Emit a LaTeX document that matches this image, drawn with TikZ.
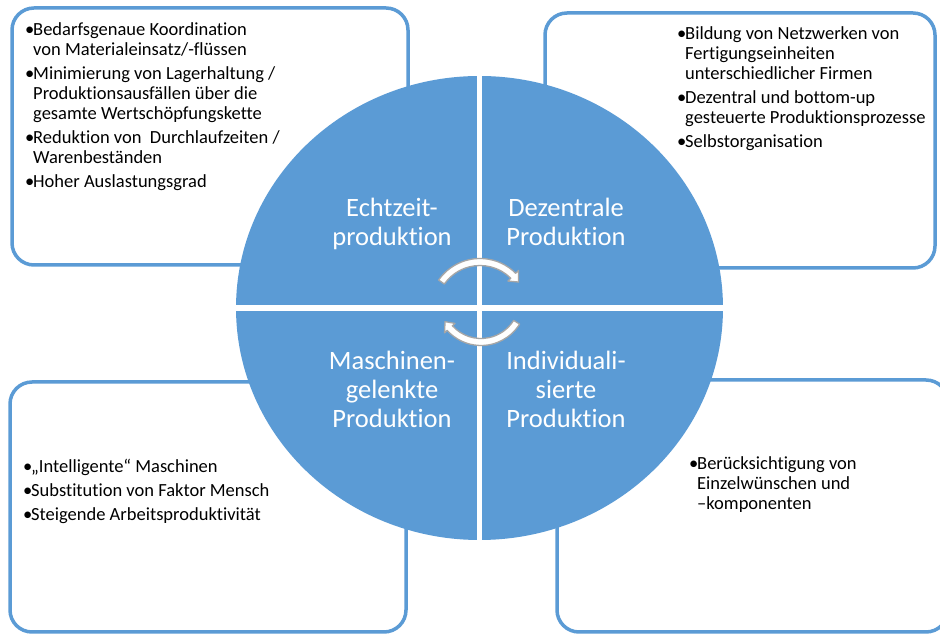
\documentclass[tikz,border=0pt]{standalone}
\usepackage{fontspec}
\setmainfont{Carlito}[Ligatures=NoCommon]
\definecolor{sablue}{HTML}{5B9BD5}
\definecolor{arrowgray}{HTML}{A6A6A6}
\newcommand{\bxbul}{\makebox[8pt][l]{•}}
\newcommand{\bxind}{\hspace*{8pt}}
\newcommand{\bxtext}[1]{\parbox[t]{300pt}{\raggedright\fontsize{18.5}{20}\selectfont #1}}
\newcommand{\bxlabel}[1]{\parbox[t]{200pt}{\centering\fontsize{26.5}{29}\selectfont #1}}
\begin{document}
\begin{tikzpicture}[x=1pt,y=1pt,
  infobox/.style={draw=sablue, line width=3.5pt, fill=white, rounded corners=22pt},
  bodytext/.style={anchor=base west, inner sep=0pt, text=black},
  quadlabel/.style={anchor=base, inner sep=0pt, text=white},
  cyclearrow/.style={fill=white, draw=arrowgray, line width=1.3pt, line join=round}]
\useasboundingbox (0,0) rectangle (940,634);
% boxes
\draw[infobox] (12,369) rectangle (408,626);
\draw[infobox] (545,366) rectangle (935,621);
\draw[infobox] (10,2) rectangle (406,252);
\draw[infobox] (557,2) rectangle (948,254);
% circle
\fill[sablue] (479.5,326) ellipse [x radius=243.5, y radius=232];
\draw[white, line width=5pt] (479.5,93) -- (479.5,559);
\draw[white, line width=5.5pt] (235,326) -- (724,326);
% labels
\node[quadlabel] (echt) at (392,417) {\bxlabel{Echtzeit-\\produktion}};
\node[quadlabel] (dez) at (566,417) {\bxlabel{Dezentrale\\Produktion}};
\node[quadlabel] (masch) at (392,264) {\bxlabel{Maschinen-\\gelenkte\\Produktion}};
\node[quadlabel] (indiv) at (566,264) {\bxlabel{Individuali-\\sierte\\Produktion}};
% arrows
\begin{scope}[shift={(480,325)}]
\path[cyclearrow] (145:50.5) arc[start angle=145, end angle=45, radius=50.5]
  -- (45:54.5) -- (35:47) -- (45:39.5) -- (45:43.5)
  arc[start angle=45, end angle=145, radius=43.5] -- cycle;
\end{scope}
\begin{scope}[shift={(481,334)}]
\path[cyclearrow] (328:45.5) arc[start angle=328, end angle=222, radius=45.5]
  -- (222:49) -- (211:42) -- (222:35) -- (222:38.5)
  arc[start angle=222, end angle=328, radius=38.5] -- cycle;
\end{scope}
% texts
\node[bodytext] (tltext) at (25,598) {\bxtext{\bxbul Bedarfsgenaue Koordination\\
\bxind von Materialeinsatz/-flüssen\\[4pt]
\bxbul Minimierung von Lagerhaltung /\\
\bxind Produktionsausfällen über die\\
\bxind gesamte Wertschöpfungskette\\[4pt]
\bxbul Reduktion von\ \ Durchlaufzeiten /\\
\bxind Warenbeständen\\[4pt]
\bxbul Hoher Auslastungsgrad}};
\node[bodytext] (trtext) at (677,594) {\bxtext{\bxbul Bildung von Netzwerken von\\
\bxind Fertigungseinheiten\\
\bxind unterschiedlicher Firmen\\[4pt]
\bxbul Dezentral und bottom-up\\
\bxind gesteuerte Produktionsprozesse\\[4pt]
\bxbul Selbstorganisation}};
\node[bodytext] (bltext) at (23,161) {\bxtext{\bxbul „Intelligente“ Maschinen\\[4pt]
\bxbul Substitution von Faktor Mensch\\[4pt]
\bxbul Steigende Arbeitsproduktivität}};
\node[bodytext] (brtext) at (689,164) {\bxtext{\bxbul Berücksichtigung von\\
\bxind Einzelwünschen und\\
\bxind –komponenten}};
\end{tikzpicture}
\end{document}
